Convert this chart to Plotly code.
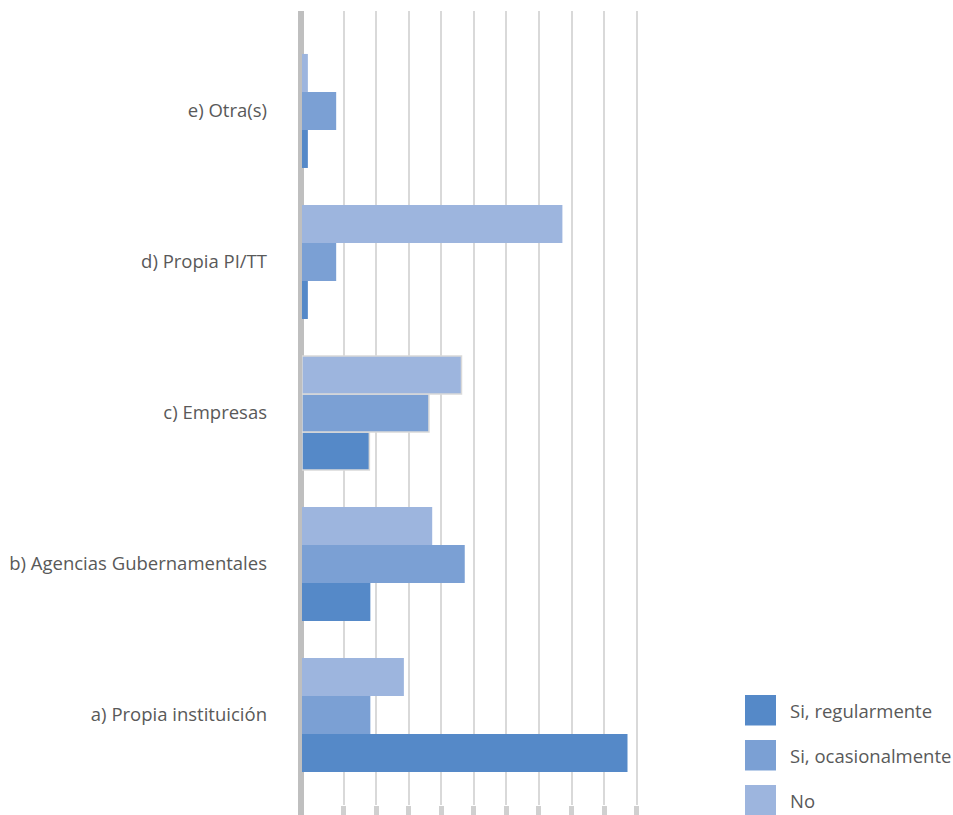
import plotly.graph_objects as go

# Categories (bottom to top) and responses per series
categories = ["a) Propia instituición", "b) Agencias Gubernamentales", "c) Empresas",
              "d) Propia PI/TT", "e) Otra(s)"]
series_names = ["Si, regularmente", "Si, ocasionalmente", "No"]
regularmente = [10, 2.1, 2.07, 0.18, 0.18]
ocasionalmente = [2.1, 5, 3.9, 1.05, 1.05]
no = [3.13, 4, 4.9, 8, 0.18]
series_values = [regularmente, ocasionalmente, no]
colors = ["#5589C8", "#7BA0D4", "#9DB5DE"]
grid_vals = [1.28, 2.28, 3.28, 4.28, 5.28, 6.28, 7.28, 8.28, 9.28, 10.28]

W, H = 953, 815
ML, MR, MT, MB = 302, 303, 11, 10
PW, PH = W - ML - MR, H - MT - MB
TEXT = "#595959"
FONT = "Open Sans"
FS = 18.5


def px_x(p):
    return (p - ML) / PW


def px_y(p):
    return (H - MB - p) / PH


fig = go.Figure()
for name, vals, col in zip(series_names, series_values, colors):
    # only the "Empresas" group carries a light outline
    lw = [1.5 if c == "c) Empresas" else 0 for c in categories]
    fig.add_trace(go.Bar(
        y=categories, x=vals, orientation="h", name=name,
        marker=dict(color=col, line=dict(color="#D9D9D9", width=lw)),
        showlegend=False, hoverinfo="x+y",
    ))

# vertical category axis line, running down past the plot to the bottom edge
fig.add_shape(type="line", xref="paper", yref="paper", x0=px_x(301), x1=px_x(301),
              y0=px_y(H), y1=1, line=dict(color="#BFBFBF", width=6), layer="between")

# legend: large colour swatches with labels
for i, (name, col) in enumerate(zip(series_names, colors)):
    top = 695 + i * 45
    fig.add_shape(type="rect", xref="paper", yref="paper",
                  x0=px_x(745), x1=px_x(776), y0=px_y(top + 30.5), y1=px_y(top),
                  fillcolor=col, line=dict(width=0))
    fig.add_annotation(xref="paper", yref="paper", x=px_x(788), y=px_y(top + 15),
                       text=name, showarrow=False, xanchor="left", yanchor="middle",
                       font=dict(family=FONT, size=FS, color=TEXT))

fig.update_layout(
    width=W, height=H,
    margin=dict(l=ML, r=MR, t=MT, b=MB, pad=0, autoexpand=False),
    paper_bgcolor="white", plot_bgcolor="white",
    barmode="group", bargap=0.245, bargroupgap=0,
    font=dict(family=FONT, size=FS, color=TEXT),
    xaxis=dict(range=[0, PW / 32.55], tickvals=grid_vals, showticklabels=False,
               showgrid=True, gridcolor="#D9D9D9", gridwidth=1.5,
               ticks="outside", ticklen=10, tickwidth=5, tickcolor="#D0D0D0",
               zeroline=False, showline=False, fixedrange=True, automargin=False),
    yaxis=dict(range=[-0.596, 4.662], showgrid=False, zeroline=False, showline=False,
               ticks="", ticklabelstandoff=34, automargin=False,
               tickfont=dict(family=FONT, size=FS, color=TEXT), fixedrange=True),
)

fig.write_html("out.html")
